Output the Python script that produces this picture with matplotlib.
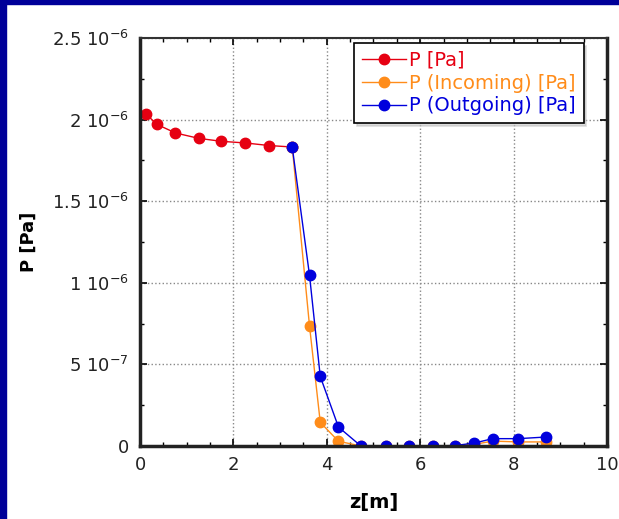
import matplotlib.pyplot as plt
from matplotlib.patches import Rectangle
from matplotlib.ticker import MultipleLocator

plt.rcParams['font.family'] = ['DejaVu Sans']

# P [Pa] before the step
z_p = [0.12, 0.36, 0.76, 1.26, 1.74, 2.25, 2.77, 3.26]
p_p = [2.037e-6, 1.971e-6, 1.918e-6, 1.885e-6, 1.867e-6, 1.857e-6, 1.841e-6, 1.832e-6]

# incoming / outgoing after the step
z_io = [3.26, 3.63, 3.86, 4.25, 4.73, 5.27, 5.76, 6.27, 6.75, 7.16, 7.55, 8.10, 8.69]
p_in = [1.832e-6, 0.735e-6, 0.145e-6, 0.029e-6, 0.0, 0.0, 0.0, 0.0, 0.0,
        0.010e-6, 0.030e-6, 0.025e-6, 0.025e-6]
p_out = [1.832e-6, 1.046e-6, 0.426e-6, 0.116e-6, 0.0, 0.0, 0.0, 0.0, 0.003e-6,
         0.018e-6, 0.045e-6, 0.045e-6, 0.055e-6]

yticks = [0, 5e-7, 1e-6, 1.5e-6, 2e-6, 2.5e-6]
ylabels = ['0', r'5 10$^{-7}$', r'1 10$^{-6}$', r'1.5 10$^{-6}$',
           r'2 10$^{-6}$', r'2.5 10$^{-6}$']

red = '#e60012'
orange = '#ff8c1a'
blue = '#0000dd'

fig = plt.figure(figsize=(6.19, 5.19), dpi=100)
fig.patches.append(Rectangle((0, 1 - 4 / 519), 1, 4 / 519, transform=fig.transFigure,
                             color='#000099', zorder=-1))
fig.patches.append(Rectangle((0, 0), 6 / 619, 1, transform=fig.transFigure,
                             color='#000099', zorder=-1))

ax = fig.add_axes([140 / 619, 73 / 519, 467 / 619, 408 / 519])

ax.plot(z_p, p_p, '-o', color=red, lw=1, ms=7.5, label='P [Pa]')
ax.plot(z_io, p_in, '-o', color=orange, lw=1, ms=7.5, label='P (Incoming) [Pa]')
ax.plot(z_io, p_out, '-o', color=blue, lw=1, ms=7.5, label='P (Outgoing) [Pa]')

ax.set_xlim(0, 10)
ax.set_ylim(0, 2.5e-6)
ax.set_xticks([0, 2, 4, 6, 8, 10])
ax.set_yticks(yticks)
ax.set_yticklabels(ylabels)
ax.xaxis.set_minor_locator(MultipleLocator(0.5))
ax.yaxis.set_minor_locator(MultipleLocator(2.5e-7))
ax.tick_params(which='both', direction='in', top=True, right=True,
               labelsize=13, labelcolor='#222222')
ax.tick_params(which='major', length=5, width=1.2)
ax.tick_params(which='minor', length=3, width=1)
ax.tick_params(axis='x', pad=7)
ax.tick_params(axis='y', pad=8)

ax.grid(True, color='#888888', ls=':', lw=1)
for side in ['left', 'bottom', 'right']:
    ax.spines[side].set_linewidth(2.5)
    ax.spines[side].set_color('#222222')
ax.spines['top'].set_linewidth(1.5)
ax.spines['top'].set_color('#333333')

ax.set_xlabel('z[m]', fontsize=14, fontweight='bold', labelpad=14)
ax.set_ylabel('P [Pa]', fontsize=13, fontweight='bold', labelpad=10)

leg = ax.legend(loc='upper left', bbox_to_anchor=(0.458, 0.988), borderaxespad=0,
                fontsize=14, fancybox=False, edgecolor='black', framealpha=1,
                handlelength=2.3, handletextpad=0.15, labelspacing=0.2,
                borderpad=0.4, shadow={'color': '#bbbbbb'})
leg.get_frame().set_linewidth(1.2)
for txt, c in zip(leg.get_texts(), [red, orange, blue]):
    txt.set_color(c)

fig.savefig('out.png', dpi=100)
